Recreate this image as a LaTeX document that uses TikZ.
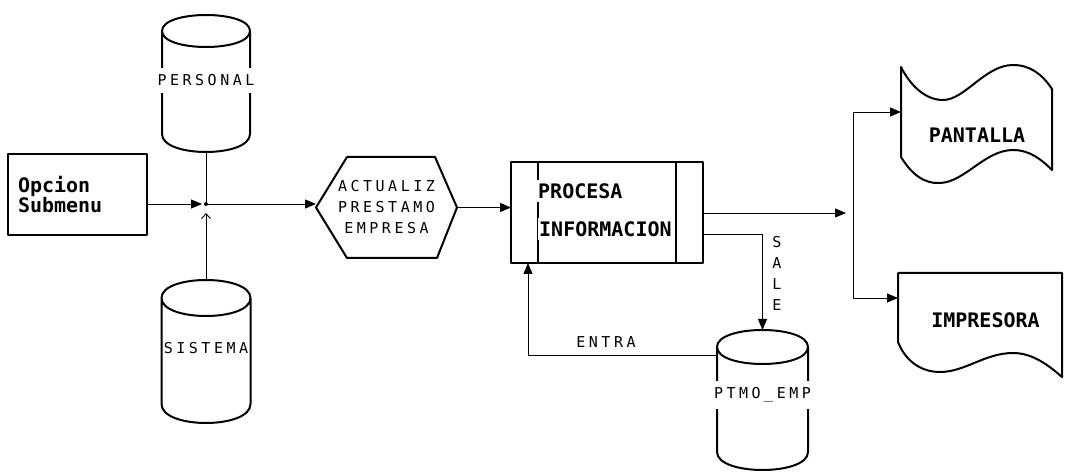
\documentclass[tikz,border=0pt]{standalone}
\usepackage{fontspec}
\usetikzlibrary{arrows.meta,calc}
\newfontfamily\dmono{DejaVu Sans Mono}
\newcommand\bigtxt{\dmono\bfseries\fontsize{20}{22}\selectfont}
\newcommand\opctxt{\dmono\bfseries\fontsize{20}{15.5}\selectfont}
\newcommand\smalltxt{\dmono\fontsize{15}{21}\selectfont}
\def\spaced#1{\spacedx#1\relax\unkern}
\def\spacedx#1{\ifx\relax#1\else#1\kern3.5pt\expandafter\spacedx\fi}
\newcommand\cylout[3]{%
 \draw[shp] ($(#1.north west)+(0,#2)$)
 .. controls ($(#1.north west)+(0,-#2/3)$) and ($(#1.north east)+(0,-#2/3)$) .. ($(#1.north east)+(0,#2)$)
 .. controls ($(#1.north east)+(0,7*#2/3)$) and ($(#1.north west)+(0,7*#2/3)$) .. ($(#1.north west)+(0,#2)$)
 -- ($(#1.south west)+(0,-#3)$)
 .. controls ($(#1.south west)+(0,#3/3)$) and ($(#1.south east)+(0,#3/3)$) .. ($(#1.south east)+(0,-#3)$)
 -- ($(#1.north east)+(0,#2)$);}
\tikzset{
 shp/.style={line width=2pt, line join=round},
 conn/.style={line width=0.9pt},
 tri/.style={-{Triangle[length=11pt,width=9pt]}},
 anchorbox/.style={inner sep=0pt, outer sep=0pt},
 cyllbl/.style={font=\smalltxt, fill=white, inner xsep=1pt, inner ysep=7pt},
}
\begin{document}
\begin{tikzpicture}[x=1pt,y=-1pt]
\fill[white] (0,0) rectangle (1072,473);
\useasboundingbox (0,0) rectangle (1072,473);

% Opcion Submenu
\node[draw, shp, minimum width=139pt, minimum height=81pt, text width=119pt,
      inner xsep=10pt, align=left, font=\opctxt] (opcion) at (77.5,194.5) {Opcion\\Submenu};

% cylinders
\node[anchorbox, minimum width=88pt, minimum height=137pt] (personal) at (206,83.5) {};
\cylout{personal}{16}{18}
\node[cyllbl] (personal-t) at ($(personal.center)+(0,-3)$) {\spaced{PERSONAL}};

\node[anchorbox, minimum width=89pt, minimum height=143pt] (sistema) at (206,351.5) {};
\cylout{sistema}{18}{19}
\node[cyllbl, inner ysep=5pt] (sistema-t) at ($(sistema.center)+(0,-3)$) {\spaced{SISTEMA}};

\node[anchorbox, minimum width=91pt, minimum height=140pt] (ptmo) at (762.5,400) {};
\cylout{ptmo}{17}{18}
\node[cyllbl] (ptmo-t) at ($(ptmo.center)+(0,-5)$) {\spaced{PTMO\_EMP}};

% hexagon
\node[anchorbox, minimum width=141pt, minimum height=101pt, font=\smalltxt, align=center]
  (act) at (386.5,207.5) {\spaced{ACTUALIZ}\\\spaced{PRESTAMO}\\\spaced{EMPRESA}};
\draw[shp] (act.west) -- ($(act.north west)+(31,0)$) -- ($(act.north east)+(-22,0)$)
  -- (act.east) -- ($(act.south east)+(-20,0)$) -- ($(act.south west)+(31,0)$) -- cycle;

% process box
\node[draw, shp, anchorbox, minimum width=192pt, minimum height=101pt] (procesa) at (607,212.5) {};
\draw[shp] ($(procesa.north west)+(27,0)$) -- ($(procesa.south west)+(27,0)$);
\draw[shp] ($(procesa.north east)+(-27,0)$) -- ($(procesa.south east)+(-27,0)$);
\node[font=\bigtxt, anchor=west, fill=white, inner xsep=1pt, inner ysep=3pt] (procesa-t1)
  at ($(procesa.north west)+(26,29)$) {PROCESA};
\node[font=\bigtxt, anchor=west, fill=white, inner xsep=1pt, inner ysep=3pt] (procesa-t2)
  at ($(procesa.north west)+(27,67)$) {INFORMACION};

% PANTALLA (display / tape)
\node[anchorbox, minimum width=151pt, minimum height=118pt] (pant) at (976.5,124) {};
\draw[shp] (901,67) -- (901,157)
  .. controls (912,175) and (925,184) .. (940,183)
  .. controls (965,182) and (985,150) .. (1013,150)
  .. controls (1030,150) and (1042,160) .. (1052,170)
  -- (1052,89)
  .. controls (1042,74) and (1030,65) .. (1013,65)
  .. controls (985,65) and (965,100) .. (943,100)
  .. controls (925,100) and (910,85) .. (901,67) -- cycle;
\node[font=\bigtxt] (pant-t) at (977,135) {PANTALLA};

% IMPRESORA (document)
\node[anchorbox, minimum width=164pt, minimum height=104pt] (impr) at (980,325) {};
\draw[shp] (898,273) -- (1062,273) -- (1062,377)
  .. controls (1045,362) and (1030,353) .. (1013,353)
  .. controls (985,353) and (965,372) .. (940,372)
  .. controls (920,372) and (905,360) .. (898,342) -- cycle;
\node[font=\bigtxt] (impr-t) at (985.5,320) {IMPRESORA};

% connectors left
\coordinate (junc) at (206,204);
\draw[conn, tri] (opcion.east |- junc) -- ($(junc)+(-4,0)$);
\draw[conn, tri] (junc) -- (junc -| act.west);
\draw[conn] (personal.south) -- (junc);
\draw[conn, -{Straight Barb[length=5pt,width=9pt]}] (sistema.north) -- ($(junc)+(0,9)$);
\fill (junc) circle (2pt);
\draw[conn, tri] (act.east) -- (act.east -| procesa.west);

% outputs
\draw[conn, tri] ($(procesa.north east)+(0,51)$) -- ++(143,0);
\coordinate (forktop) at (853,112);
\coordinate (forkbot) at (853,298);
\draw[conn] (forktop) -- (forkbot);
\draw[conn, tri] (forktop) -- (forktop -| pant.west);
\draw[conn, tri] (forkbot) -- (forkbot -| impr.west);

\draw[conn, tri] ($(procesa.north east)+(0,72)$) -| (ptmo.north);
\node[font=\smalltxt, align=center] (sale) at (777,273) {S\\A\\L\\E};

\draw[conn, tri] ($(ptmo.north west)+(0,25)$) -| ($(procesa.south west)+(17,0)$);
\node[font=\smalltxt] (entra) at (606,342) {\spaced{ENTRA}};
\end{tikzpicture}
\end{document}
